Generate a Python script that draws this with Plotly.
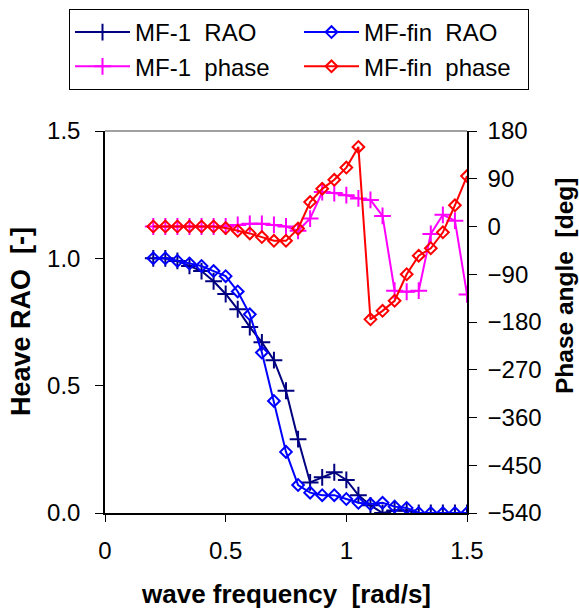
import plotly.graph_objects as go

freq = [0.20, 0.25, 0.30, 0.35, 0.40, 0.45, 0.50, 0.55, 0.60, 0.65, 0.70, 0.75, 0.80,
        0.85, 0.90, 0.95, 1.00, 1.05, 1.10, 1.15, 1.20, 1.25, 1.30, 1.35, 1.40, 1.45, 1.50]

mf1_rao = [1.00, 1.00, 0.99, 0.97, 0.95, 0.91, 0.86, 0.80, 0.73, 0.67, 0.60, 0.48, 0.29,
           0.12, 0.14, 0.16, 0.13, 0.07, 0.03, 0.00, 0.01, 0.01, 0.00, 0.00, 0.00, 0.00, 0.00]
mffin_rao = [1.00, 1.00, 0.99, 0.98, 0.97, 0.95, 0.93, 0.87, 0.78, 0.63, 0.44, 0.24, 0.11,
             0.08, 0.07, 0.07, 0.055, 0.04, 0.035, 0.04, 0.025, 0.02, 0.00, 0.00, 0.00, 0.00, 0.00]
mf1_phase = [0, 0, 0, 0, 0, 0, 0, 3, 5, 5, 3, 0, -8,
             15, 65, 63, 59, 53, 50, 20, -121, -123, -121, -14, 22, 11, -128]
mffin_phase = [0, 0, 0, 0, 0, 0, -3, -8, -13, -20, -27, -27, -4,
               46, 71, 88, 111, 150, -175, -159, -140, -90, -55, -41, -11, 40, 95]

names = ["MF-1 \u00a0RAO", "MF-fin \u00a0RAO", "MF-1 \u00a0phase", "MF-fin \u00a0phase"]
colors = ["#000080", "#0000FF", "#FF00FF", "#FF0000"]

x_title = "wave frequency \u00a0[rad/s]"
yl_title = "Heave RAO \u00a0[-]"
yr_title = "Phase angle \u00a0[deg]"

FONT = "Liberation Sans, Arial, sans-serif"

fig = go.Figure()
series = [(mf1_rao, "y", "cross-thin", 12), (mffin_rao, "y", "diamond-open", 9),
          (mf1_phase, "y2", "cross-thin", 12), (mffin_phase, "y2", "diamond-open", 9)]
for (vals, ax, sym, sz), nm, col in zip(series, names, colors):
    fig.add_trace(go.Scatter(
        x=freq, y=vals, name=nm, yaxis=ax, mode="lines+markers",
        line=dict(color=col, width=2),
        marker=dict(symbol=sym, size=sz, color=col, line=dict(color=col, width=2)),
    ))

axis_common = dict(showgrid=False, zeroline=False, linecolor="black", linewidth=1.5,
                   tickcolor="black", tickfont=dict(family=FONT, size=24, color="black"))

fig.update_layout(
    width=579, height=613,
    margin=dict(l=105, r=112, t=131, b=100, autoexpand=False),
    paper_bgcolor="white", plot_bgcolor="white",
    font=dict(family=FONT, color="black"),
    xaxis=dict(range=[0, 1.5], dtick=0.5, tick0=0, ticks="outside", ticklen=7,
               showline=True, ticklabelstandoff=8, **axis_common),
    yaxis=dict(range=[0, 1.5], dtick=0.5, tick0=0, tickformat=".1f", ticks="outside",
               ticklen=8, showline=True, ticklabelstandoff=10, **axis_common),
    yaxis2=dict(range=[-540, 180], dtick=90, tick0=-540, overlaying="y", side="right",
                ticks="outside", ticklen=8, showline=True, ticklabelstandoff=6,
                **axis_common),
    yaxis3=dict(range=[-540, 180], dtick=90, tick0=-540, overlaying="y", side="right",
                ticks="inside", ticklen=9, showline=False, showticklabels=False,
                showgrid=False, zeroline=False, tickcolor="black"),
    showlegend=True,
    legend=dict(orientation="h", xref="paper", yref="paper",
                x=(69 - 105) / 362, y=(513 - 9) / 382, xanchor="left", yanchor="top",
                entrywidth=159, entrywidthmode="pixels", itemwidth=55,
                bgcolor="white", bordercolor="black", borderwidth=1,
                font=dict(family=FONT, size=24, color="black")),
    shapes=[dict(type="line", xref="paper", yref="paper", x0=0, x1=1, y0=1, y1=1,
                 line=dict(color="#808080", width=1.5))],
    annotations=[
        dict(text="<b>" + x_title + "</b>", xref="paper", yref="paper",
             x=0.5, y=(513 - 594) / 382, xanchor="center", yanchor="middle",
             showarrow=False, font=dict(family=FONT, size=26, color="black")),
        dict(text="<b>" + yl_title + "</b>", xref="paper", yref="paper",
             x=(21 - 105) / 362, y=(513 - 322) / 382, xanchor="center", yanchor="middle",
             textangle=-90, showarrow=False,
             font=dict(family=FONT, size=27, color="black")),
        dict(text="<b>" + yr_title + "</b>", xref="paper", yref="paper",
             x=(564 - 105) / 362, y=(513 - 286) / 382, xanchor="center", yanchor="middle",
             textangle=-90, showarrow=False,
             font=dict(family=FONT, size=24.5, color="black")),
    ],
)

fig.write_html("out.html", config={"displayModeBar": False},
               post_script="document.body.style.margin='0';")
